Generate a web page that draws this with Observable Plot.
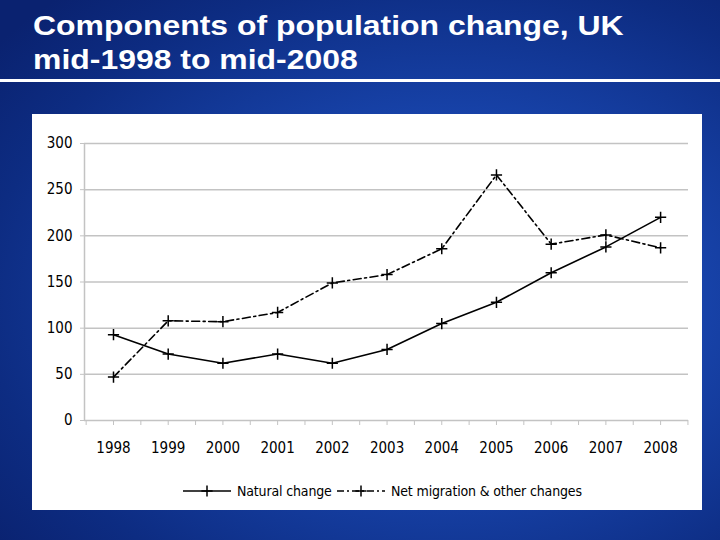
<!DOCTYPE html>
<html><head><meta charset="utf-8">
<script src="https://cdn.jsdelivr.net/npm/d3@7"></script>
<script src="https://cdn.jsdelivr.net/npm/@observablehq/plot@0.6"></script>
<style>
html,body{margin:0;padding:0;}
body{width:720px;height:540px;overflow:hidden;position:relative;
  background:radial-gradient(ellipse 80% 75% at 62% 55%, #2358c9 0%, #1742a8 45%, #0d2c82 80%, #0a2270 100%);}
#title{position:absolute;left:33px;top:9px;color:#fff;font:bold 28px "Liberation Sans",Arial,sans-serif;line-height:34px;white-space:nowrap;transform-origin:0 0;transform:scaleX(1.14);}
#rule{position:absolute;left:0;top:79px;width:720px;height:3px;background:#fff;}
#panel{position:absolute;left:32px;top:114px;width:670px;height:396px;background:#fff;}
#chart{position:absolute;left:0;top:0;}
#legend{position:absolute;top:366px;left:0;height:22px;font:14px "DejaVu Sans Condensed","DejaVu Sans",sans-serif;color:#000;}
.li{position:absolute;top:0;display:flex;align-items:center;height:22px;white-space:nowrap;}
.li svg{display:block;margin-right:4px;}
</style>
</head><body>
<div id="title">Components of population change, UK<br>mid-1998 to mid-2008</div>
<div id="rule"></div>
<div id="panel">
  <div id="chart"></div>
  <div id="legend"></div>
</div>
<script>
const years = [1998, 1999, 2000, 2001, 2002, 2003, 2004, 2005, 2006, 2007, 2008];
const naturalChange = [93, 72, 62, 72, 62, 77, 105, 128, 160, 188, 220];
const netMigration = [47, 108, 107, 117, 149, 158, 186, 266, 191, 201, 187];
const yTicks = [0, 50, 100, 150, 200, 250, 300];
const xTickLabels = ["1998","1999","2000","2001","2002","2003","2004","2005","2006","2007","2008"];
const seriesNames = ["Natural change", "Net migration & other changes"];

const natData = years.map((y, i) => ({year: y, value: naturalChange[i]}));
const migData = years.map((y, i) => ({year: y, value: netMigration[i]}));
const halfTicks = d3.range(years[0] - 0.5, years[years.length - 1] + 1, 0.5);

const font = '"DejaVu Sans Condensed","DejaVu Sans",sans-serif';
const grid = "#c3c3c3";

const chart = Plot.plot({
  width: 670,
  height: 360,
  marginLeft: 52,
  marginRight: 14,
  marginTop: 29,
  marginBottom: 54,
  style: {fontFamily: font, fontSize: "15px", background: "white", color: "#000"},
  x: {type: "linear", domain: [1997.47, 2008.51]},
  y: {domain: [0, 300]},
  marks: [
    Plot.ruleY(yTicks.filter(d => d > 0), {stroke: grid, strokeWidth: 1.5}),
    Plot.ruleY([0], {stroke: grid, strokeWidth: 1.5}),
    Plot.ruleX([1997.47], {y1: 0, y2: 300, stroke: grid, strokeWidth: 1.5}),
    Plot.axisY({ticks: yTicks, tickSize: 4, tickPadding: 8, stroke: grid, label: null, fill: "#000", fontSize: 15}),
    Plot.axisX({ticks: halfTicks, tickSize: 5, tickFormat: () => "", stroke: grid, label: null}),
    Plot.axisX({ticks: years, tickSize: 0, tickPadding: 22, tickFormat: (d, i) => xTickLabels[i], label: null, fill: "#000", fontSize: 15}),
    Plot.line(natData, {x: "year", y: "value", stroke: "#000", strokeWidth: 1.6}),
    Plot.line(migData, {x: "year", y: "value", stroke: "#000", strokeWidth: 1.6, strokeDasharray: "8,3.5,2,3.5"}),
    Plot.dot(natData, {x: "year", y: "value", symbol: "plus", r: 3.7, stroke: "#000", strokeWidth: 1.5}),
    Plot.dot(migData, {x: "year", y: "value", symbol: "plus", r: 3.7, stroke: "#000", strokeWidth: 1.5})
  ]
});
document.getElementById("chart").appendChild(chart);

// legend
const legend = document.getElementById("legend");
const legendDefs = [
  {name: seriesNames[0], dash: null, left: 151},
  {name: seriesNames[1], dash: "7,3,2,3", left: 305}
];
legendDefs.forEach(d => {
  const item = document.createElement("div");
  item.className = "li";
  item.style.left = d.left + "px";
  const svg = d3.create("svg").attr("width", 50).attr("height", 22);
  svg.append("line").attr("x1", 0).attr("x2", 48).attr("y1", 11).attr("y2", 11)
    .attr("stroke", "#000").attr("stroke-width", 1.6).attr("stroke-dasharray", d.dash);
  svg.append("path").attr("d", d3.symbol(d3.symbolPlus, 43)()).attr("transform", "translate(24,11)")
    .attr("fill", "none").attr("stroke", "#000").attr("stroke-width", 1.5);
  item.appendChild(svg.node());
  const span = document.createElement("span");
  span.textContent = d.name;
  span.style.letterSpacing = "-0.15px";
  item.appendChild(span);
  legend.appendChild(item);
});
</script>
</body></html>
